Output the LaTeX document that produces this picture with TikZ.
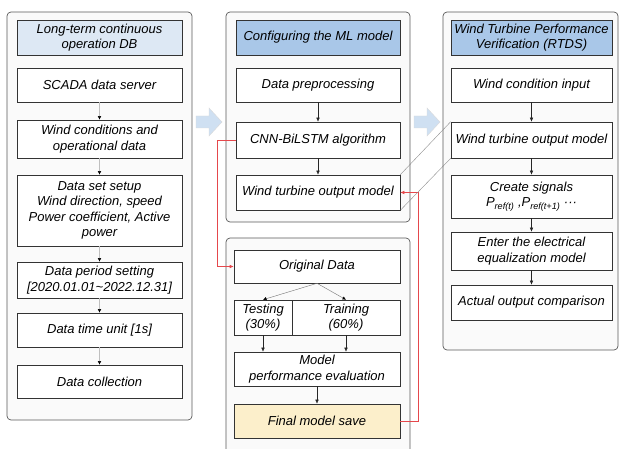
\documentclass[tikz,border=0pt]{standalone}
\usepackage{fontspec}
\setmainfont{Liberation Sans}
\usetikzlibrary{arrows.meta}
\definecolor{paleblue}{HTML}{DDE8F4}
\definecolor{midblue}{HTML}{A9C7E8}
\definecolor{paleyellow}{HTML}{FCEFCB}
\definecolor{linkred}{HTML}{E5484C}
\definecolor{arrowblue}{HTML}{CFE0F2}

\begin{document}
\begin{tikzpicture}[x=1pt,y=-1pt,
  panel/.style={draw=black!65, rounded corners=4pt, fill=black!2, line width=0.7pt},
  box/.style={draw=black!80, fill=white, line width=0.6pt, align=center, inner sep=1pt,
    font=\fontsize{13}{15.5}\selectfont\itshape, minimum width=165pt},
  flow/.style={draw=black!85, -{Latex[length=4pt,width=3.5pt]}},
  faint/.style={draw=black!25, -{Latex[length=3.5pt,width=3.5pt,black]}},
  redlink/.style={draw=linkred, line width=0.6pt, -{Latex[length=4pt,width=3.5pt]}},
  zoomline/.style={draw=black!45, line width=0.4pt},
  bigarrow/.style={draw=black!15, fill=arrowblue}]
\useasboundingbox (0,0) rectangle (623,449);

% left panel
\draw[panel] (7,12) rectangle (192,420);
\node[box, fill=paleblue, minimum height=35pt] (ltitle) at (99.5,37.5) {Long-term continuous\\operation DB};
\node[box, minimum height=34pt] (scada) at (99.5,85) {SCADA data server};
\node[box, minimum height=38pt] (windcond) at (99.5,139) {Wind conditions and\\operational data};
\node[box, minimum height=71pt] (dataset) at (99.5,210.5) {Data set setup\\Wind direction, speed\\Power coefficient, Active\\power};
\node[box, minimum height=36pt] (period) at (99.5,280) {Data period setting\\{[}2020.01.01\textasciitilde 2022.12.31{]}};
\node[box, minimum height=34pt] (timeunit) at (99.5,330) {Data time unit [1s]};
\node[box, minimum height=33pt] (collect) at (99.5,381.5) {Data collection};
\draw[faint] (scada) -- (windcond);
\draw[faint] (windcond) -- (dataset);
\draw[faint] (dataset) -- (period);
\draw[faint] (period) -- (timeunit);
\draw[faint] (timeunit) -- (collect);

% middle panels
\draw[panel] (226,12) rectangle (410,222);
\node[box, fill=midblue, minimum width=164pt, minimum height=35pt] (mtitle) at (318,37.5) {Configuring the ML model};
\node[box, minimum width=164pt, minimum height=34pt] (prep) at (318,85) {Data preprocessing};
\node[box, minimum width=164pt, minimum height=36pt] (cnn) at (318,140) {CNN-BiLSTM algorithm};
\node[box, minimum width=164pt, minimum height=35pt] (mmodel) at (318,192.5) {Wind turbine output model};
\draw[flow] (prep) -- (cnn);
\draw[flow] (cnn) -- (mmodel);

\draw[panel] (226,238) rectangle (410,470);
\node[box, minimum width=166pt, minimum height=33pt] (orig) at (317,266.5) {Original Data};
\node[box, minimum width=58pt, minimum height=35pt] (test) at (263,317.5) {Testing\\(30\%)};
\node[box, minimum width=108pt, minimum height=35pt] (train) at (346,317.5) {Training\\(60\%)};
\node[box, minimum width=166pt, minimum height=34pt] (perf) at (317,369) {Model\\performance evaluation};
\node[box, fill=paleyellow, minimum width=166pt, minimum height=34pt] (final) at (317,421) {Final model save};
\draw[faint, draw=black!55] (orig.south) -- (test.north);
\draw[faint, draw=black!55] (orig.south) -- (train.north);
\draw[flow] (test) -- (test |- perf.north);
\draw[flow] (train) -- (train |- perf.north);
\draw[flow] (perf) -- (final);

% right panel
\draw[panel] (443,12) rectangle (618,350);
\node[box, fill=midblue, minimum width=161pt, minimum height=35pt] (rtitle) at (531.5,37.5) {Wind Turbine Performance\\Verification (RTDS)};
\node[box, minimum width=161pt, minimum height=34pt] (input) at (531.5,85) {Wind condition input};
\node[box, minimum width=161pt, minimum height=36pt] (rmodel) at (531.5,140) {Wind turbine output model};
\node[box, minimum width=161pt, minimum height=43pt] (signals) at (531.5,196.5) {Create signals\\\textit{P}\textsubscript{ref(t)} ,\textit{P}\textsubscript{ref(t+1)} \textperiodcentered\textperiodcentered\textperiodcentered};
\node[box, minimum width=161pt, minimum height=38pt] (enter) at (531.5,251) {Enter the electrical\\equalization model};
\node[box, minimum width=161pt, minimum height=35pt] (actual) at (531.5,302.5) {Actual output comparison};
\draw[flow] (input) -- (rmodel);
\draw[flow] (rmodel) -- (signals);
\draw[flow] (signals) -- (enter);
\draw[flow] (enter) -- (actual);

% links between panels
\draw[redlink] (cnn.west) -- ++(-18,0) |- (orig.west);
\draw[redlink] (final.east) -- ++(18,0) |- (mmodel.east);
\draw[zoomline] (mmodel.north east) -- (rmodel.north west);
\draw[zoomline] (mmodel.south east) -- (rmodel.south west);

\draw[bigarrow] (196,116) -- (209,116) -- (209,108) -- (222,122) -- (209,136) -- (209,128) -- (196,128) -- cycle;
\draw[bigarrow] (414,116) -- (427,116) -- (427,108) -- (440,122) -- (427,136) -- (427,128) -- (414,128) -- cycle;
\end{tikzpicture}
\end{document}
